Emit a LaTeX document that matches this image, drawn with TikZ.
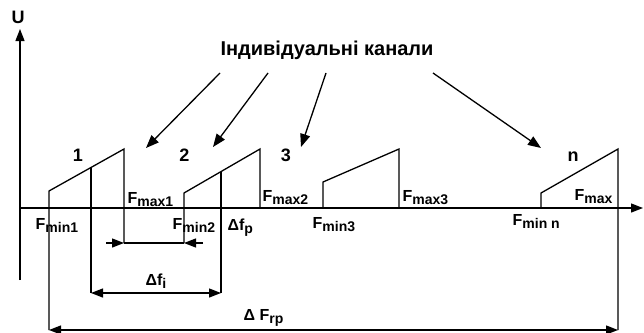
\documentclass[tikz,border=0pt]{standalone}
\usepackage{fontspec}
\setmainfont{Liberation Sans}
\usetikzlibrary{arrows.meta}
\newcommand{\mysub}[1]{\raisebox{-3pt}{\fontsize{14}{14}\selectfont\bfseries #1}}
\begin{document}
\begin{tikzpicture}[x=1pt,y=-1pt, line width=1.3pt,
  tip/.style={-{Triangle[length=12pt,width=9pt]}},
  bigtip/.style={-{Triangle[length=13pt,width=10pt]}},
  dimline/.style={{Triangle[length=12pt,width=9pt]}-{Triangle[length=12pt,width=9pt]}},
  lbl/.style={inner sep=0pt, anchor=base west, font=\fontsize{16}{16}\selectfont\bfseries},
  num/.style={inner sep=0pt, anchor=base, font=\fontsize{18}{18}\selectfont\bfseries},
]
\useasboundingbox (0,0) rectangle (644,332);
% axes
\coordinate (o) at (20,208);
\coordinate (ytop) at (20,29);
\coordinate (ybot) at (20,280);
\coordinate (xend) at (643,208);
\draw[tip] (ybot) -- (ytop);
\draw[tip] (o) -- (xend);
\node[num, anchor=base west] (U) at (11,23) {U};
% channel 1
\coordinate (c1a) at (49,330);
\coordinate (c1b) at (49,191);
\coordinate (c1c) at (124,149);
\coordinate (c1d) at (124,243);
\coordinate (c1m) at (91,167.5);
\coordinate (c1n) at (91,293);
\draw (c1a) -- (c1b) -- (c1c) -- (c1d);
\draw (c1m) -- (c1n);
% channel 2
\coordinate (c2a) at (184,243);
\coordinate (c2b) at (184,193);
\coordinate (c2c) at (260,149);
\coordinate (c2d) at (260,208);
\coordinate (c2m) at (221,171.6);
\coordinate (c2n) at (221,293);
\draw (c2a) -- (c2b) -- (c2c) -- (c2d);
\draw (c2m) -- (c2n);
% channel 3
\coordinate (c3a) at (323,208);
\coordinate (c3b) at (323,182);
\coordinate (c3c) at (399,149);
\coordinate (c3d) at (399,208);
\draw (c3a) -- (c3b) -- (c3c) -- (c3d);
% channel n
\coordinate (cna) at (541,208);
\coordinate (cnb) at (541,193);
\coordinate (cnc) at (618,149);
\coordinate (cnd) at (618,330);
\draw (cna) -- (cnb) -- (cnc) -- (cnd);
% dimension lines
\coordinate (pl) at (106,243);
\coordinate (pr) at (203,243);
\draw (c1d) -- (c2a);
\draw[tip] (pl) -- (c1d);
\draw[tip] (pr) -- (c2a);
\draw[dimline] (c1n) -- (c2n);
\draw[dimline] (c1a) -- (cnd);
% title and arrows
\node[inner sep=0pt, anchor=base, font=\fontsize{20}{20}\selectfont\bfseries] (title) at (327,55) {Індивідуальні канали};
\coordinate (t1) at (220,73);
\coordinate (t2) at (268,73);
\coordinate (t3) at (326,73);
\coordinate (t4) at (433,73);
\coordinate (h1) at (146,148);
\coordinate (h2) at (213,147);
\coordinate (h3) at (301,147);
\coordinate (h4) at (541,148);
\draw[bigtip] (t1) -- (h1);
\draw[bigtip] (t2) -- (h2);
\draw[bigtip] (t3) -- (h3);
\draw[bigtip] (t4) -- (h4);
% numbers
\node[num] (n1) at (78,161) {1};
\node[num] (n2) at (184.5,161) {2};
\node[num] (n3) at (286,161) {3};
\node[num] (nn) at (573,161) {n};
% labels
\node[lbl] (fmax1) at (127,203) {F\mysub{max1}};
\node[lbl] (fmin1) at (35,229) {F\mysub{min1}};
\node[lbl] (fmin2) at (172,229) {F\mysub{min2}};
\node[lbl] (dfp) at (227,230) {Δf\mysub{p}};
\node[lbl] (fmax2) at (262,201) {F\mysub{max2}};
\node[lbl] (fmin3) at (312,228) {F\mysub{min3}};
\node[lbl] (fmax3) at (402,201) {F\mysub{max3}};
\node[lbl] (fminn) at (512,225) {F\mysub{min n}};
\node[lbl] (fmax) at (574,200) {F\mysub{max}};
\node[lbl] (dfi) at (145,285) {Δf\mysub{i}};
\node[lbl] (dfrp) at (243,320) {Δ F\mysub{rp}};
\end{tikzpicture}
\end{document}
